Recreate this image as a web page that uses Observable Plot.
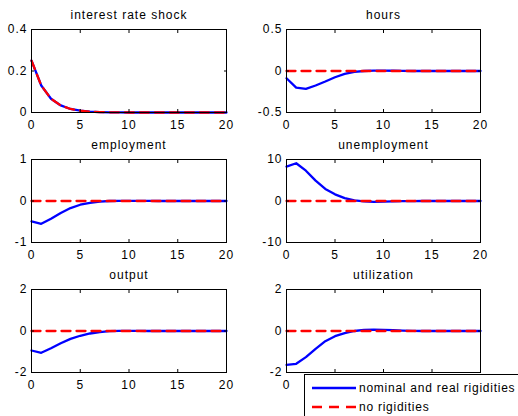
<!DOCTYPE html>
<html><head><meta charset="utf-8">
<script src="https://cdn.jsdelivr.net/npm/d3@7"></script>
<script src="https://cdn.jsdelivr.net/npm/@observablehq/plot@0.6"></script>
<style>
body{margin:0;background:#fff;}
#chart{position:relative;width:518px;height:416px;overflow:hidden;font-family:"Liberation Sans",Arial,sans-serif;}
.panel{position:absolute;}
#legend{position:absolute;left:304px;top:374px;width:240px;height:60px;border:1px solid #000;background:#fff;}
</style></head><body><div id="chart"></div>
<script>
const horizon = [0,1,2,3,4,5,6,7,8,9,10,11,12,13,14,15,16,17,18,19,20];
const xTicks = [0,5,10,15,20];
const seriesNames = ["nominal and real rigidities", "no rigidities"];
const titles = ["interest rate shock","hours","employment","unemployment","output","utilization"];

const interestNominal = [0.25,0.13,0.066,0.034,0.017,0.009,0.004,0.002,0.001,0.0005,0,0,0,0,0,0,0,0,0,0,0];
const interestNone    = [0.25,0.13,0.066,0.034,0.017,0.009,0.004,0.002,0.001,0.0005,0,0,0,0,0,0,0,0,0,0,0];
const hoursNominal = [-0.087,-0.2,-0.215,-0.175,-0.127,-0.075,-0.035,-0.01,0,0.005,0.005,0.003,0.001,0,0,0,0,0,0,0,0];
const employmentNominal = [-0.49,-0.55,-0.43,-0.29,-0.17,-0.09,-0.045,-0.015,0,0.005,0.005,0.003,0.001,0,0,0,0,0,0,0,0];
const unemploymentNominal = [8.3,9.1,7.3,4.9,2.9,1.6,0.7,0.15,-0.1,-0.2,-0.15,-0.1,-0.05,-0.02,0,0,0,0,0,0,0];
const outputNominal = [-0.94,-1.05,-0.83,-0.59,-0.38,-0.23,-0.12,-0.05,-0.01,0.01,0.01,0.005,0,0,0,0,0,0,0,0,0];
const utilizationNominal = [-1.63,-1.58,-1.26,-0.86,-0.49,-0.25,-0.1,0,0.05,0.06,0.05,0.04,0.02,0.01,0,0,0,0,0,0,0];
const noRigidities = [0,0,0,0,0,0,0,0,0,0,0,0,0,0,0,0,0,0,0,0,0];

const yDomains = [[0,0.4],[-0.5,0.5],[-1,1],[-10,10],[-2,2],[-2,2]];
const yTicks = [[0,0.2,0.4],[-0.5,0,0.5],[-1,0,1],[-10,0,10],[-2,0,2],[-2,0,2]];
// x tick labels left visible (the legend box covers the rest in the last panel)
const xTickLabels = [xTicks, xTicks, xTicks, xTicks, xTicks, [0]];
const nominalSeries = [interestNominal,hoursNominal,employmentNominal,unemploymentNominal,outputNominal,utilizationNominal];
const noneSeries = [interestNone,noRigidities,noRigidities,noRigidities,noRigidities,noRigidities];

const chart = document.getElementById("chart");
const font = '"Liberation Sans", Arial, sans-serif';

titles.forEach((title, i) => {
  const col = i % 2, row = Math.floor(i / 2);
  const data = horizon.map((h, j) => ({h, a: nominalSeries[i][j], b: noneSeries[i][j]}));
  const ml = col === 0 ? 31 : 28;
  const mr = col === 0 ? 33 : 37;
  const p = Plot.plot({
    width: 259, height: 130,
    marginLeft: ml, marginRight: mr, marginTop: 29, marginBottom: 18,
    style: {fontFamily: font, fontSize: "12px", letterSpacing: "1px", background: "transparent", overflow: "visible", color: "#000"},
    x: {domain: [0, 20], label: null},
    y: {domain: yDomains[i], label: null},
    marks: [
      Plot.line(data, {x: "h", y: "a", stroke: "#0000ff", strokeWidth: 2.3}),
      Plot.line(data, {x: "h", y: "b", stroke: "#ff0000", strokeWidth: 2.3, strokeDasharray: "9,6"}),
      Plot.frame({stroke: "#000", strokeWidth: 1}),
      Plot.axisX({anchor: "bottom", ticks: xTicks, tickSize: -3, tickFormat: () => "", label: null}),
      Plot.axisX({anchor: "bottom", ticks: xTickLabels[i], tickSize: 0, tickPadding: 8, tickFormat: d => String(d), label: null, fontSize: 12}),
      Plot.axisX({anchor: "top", ticks: xTicks, tickSize: -3, tickFormat: () => "", label: null}),
      Plot.axisY({anchor: "left", ticks: yTicks[i], tickSize: -3, tickPadding: 7, tickFormat: d => String(d), label: null, fontSize: 12}),
      Plot.axisY({anchor: "right", ticks: yTicks[i], tickSize: -3, tickFormat: () => "", label: null}),
      Plot.text([title], {frameAnchor: "top", dy: -19, fontSize: 12, fill: "#000"})
    ]
  });
  p.classList.add("panel");
  p.style.left = (col * 258) + "px";
  p.style.top = (row * 130) + "px";
  chart.appendChild(p);
});

const legend = document.createElement("div");
legend.id = "legend";
legend.innerHTML = `
<svg width="240" height="60" style="font-family:${font.replace(/"/g, "'")};font-size:12px;letter-spacing:0.75px">
  <line x1="7" x2="51" y1="13" y2="13" stroke="#0000ff" stroke-width="2.3"/>
  <text x="54" y="13" dy="0.35em" fill="#000">${seriesNames[0]}</text>
  <line x1="7" x2="51" y1="32" y2="32" stroke="#ff0000" stroke-width="2.3" stroke-dasharray="10,7"/>
  <text x="54" y="32" dy="0.35em" fill="#000">${seriesNames[1]}</text>
</svg>`;
chart.appendChild(legend);
</script>
</body></html>
